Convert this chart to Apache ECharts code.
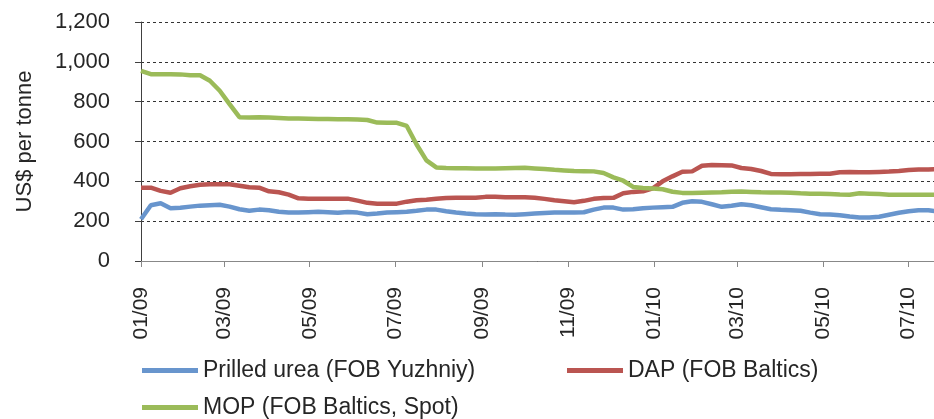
<!DOCTYPE html>
<html>
<head>
<meta charset="utf-8">
<script src="https://cdn.jsdelivr.net/npm/echarts@6/dist/echarts.min.js"></script>
<style>
html,body{margin:0;padding:0;background:#fff;}
#chart{width:934px;height:419px;}
</style>
</head>
<body>
<div id="chart"></div>
<script>
var dates = [
'2009-01-01','2009-01-08','2009-01-15','2009-01-22','2009-01-29',
'2009-02-05','2009-02-12','2009-02-19','2009-02-26',
'2009-03-05','2009-03-12','2009-03-19','2009-03-26',
'2009-04-02','2009-04-09','2009-04-16','2009-04-23','2009-04-30',
'2009-05-07','2009-05-14','2009-05-21','2009-05-28',
'2009-06-04','2009-06-11','2009-06-18','2009-06-25',
'2009-07-02','2009-07-09','2009-07-16','2009-07-23','2009-07-30',
'2009-08-06','2009-08-13','2009-08-20','2009-08-27',
'2009-09-03','2009-09-10','2009-09-17','2009-09-24',
'2009-10-01','2009-10-08','2009-10-15','2009-10-22','2009-10-29',
'2009-11-05','2009-11-12','2009-11-19','2009-11-26',
'2009-12-03','2009-12-10','2009-12-17','2009-12-24','2009-12-31',
'2010-01-07','2010-01-14','2010-01-21','2010-01-28',
'2010-02-04','2010-02-11','2010-02-18','2010-02-25',
'2010-03-04','2010-03-11','2010-03-18','2010-03-25',
'2010-04-01','2010-04-08','2010-04-15','2010-04-22','2010-04-29',
'2010-05-06','2010-05-13','2010-05-20','2010-05-27',
'2010-06-03','2010-06-10','2010-06-17','2010-06-24',
'2010-07-01','2010-07-08','2010-07-15','2010-07-22'
];

var urea = [
210,280,290,265,267,273,278,280,282,273,
260,252,258,255,247,243,243,245,247,245,
242,246,243,235,238,243,245,247,252,258,
258,250,243,238,235,234,235,233,232,235,
238,241,243,243,243,245,258,268,268,258,
260,265,268,270,272,292,300,297,285,272,
277,285,280,270,260,257,255,252,243,235,
233,230,223,218,218,222,232,242,250,255,
255,248
];

var dap = [
368,368,352,343,365,375,383,385,385,385,
378,370,368,350,345,333,315,313,313,313,
313,313,303,292,288,288,288,298,305,308,
312,316,318,318,318,322,322,320,320,320,
318,312,305,300,295,302,312,316,317,340,
347,350,365,400,425,448,450,478,482,481,
480,467,462,452,437,435,436,437,437,438,
438,446,447,446,445,447,449,452,457,459,
460,462
];

var mop = [
955,938,938,938,937,933,933,905,855,788,
722,720,722,720,718,716,715,714,713,713,
712,712,710,708,695,694,694,678,585,505,
470,467,466,466,465,464,465,466,467,468,
465,462,458,455,452,451,450,442,420,403,
372,367,364,360,348,342,342,343,344,345,
348,349,347,345,344,344,343,340,338,338,
337,334,333,340,338,336,333,333,333,333,
333,333
];

var seriesNames = ['Prilled urea (FOB Yuzhniy)', 'DAP (FOB Baltics)', 'MOP (FOB Baltics, Spot)'];
var seriesColors = ['#6895CD', '#BA5551', '#9BBB59'];
var tickDates = ['2009-01-01','2009-03-01','2009-05-01','2009-07-01','2009-09-01','2009-11-01','2010-01-01','2010-03-01','2010-05-01','2010-07-01'];
var tickLabels = ['01/09','03/09','05/09','07/09','09/09','11/09','01/10','03/10','05/10','07/10'];
var axisStart = '2009-01-01';
var axisEnd = '2010-07-19';
var yTicks = [0, 200, 400, 600, 800, 1000, 1200];
var yName = 'US$ per tonne';

var DAY = 86400000;
function dayNum(s){
  var p = s.split('-');
  var q = axisStart.split('-');
  return Math.round((Date.UTC(+p[0], +p[1]-1, +p[2]) - Date.UTC(+q[0], +q[1]-1, +q[2])) / DAY);
}
var tickDays = tickDates.map(dayNum);

function pairs(vals){ return vals.map(function(v,i){ return [dayNum(dates[i]), v]; }); }

var chart = echarts.init(document.getElementById('chart'), null, {renderer:'canvas'});
var font = 'Liberation Sans, Arial, sans-serif';
var textColor = '#262626';

function legendAt(name, left, top){
  return {
    data:[name], left:left, top:top, orient:'horizontal',
    icon:'rect', itemWidth:56, itemHeight:5, padding:0,
    textStyle:{fontFamily:font, fontSize:23, color:textColor}
  };
}

var option = {
  animation:false,
  backgroundColor:'#fff',
  grid:{left:141, right:0, top:22, bottom:158, containLabel:false},
  legend:[
    legendAt(seriesNames[0], 142, 359),
    legendAt(seriesNames[1], 567, 359),
    legendAt(seriesNames[2], 142, 396)
  ],
  xAxis:{
    type:'value',
    min: 0,
    max: dayNum(axisEnd),
    axisLine:{show:true, onZero:false, lineStyle:{color:'#888', width:1}},
    axisTick:{show:true, length:6, lineStyle:{color:'#888'}, customValues: tickDays},
    axisLabel:{
      customValues: tickDays,
      rotate:90, margin:26,
      fontFamily:font, fontSize:21, color:textColor,
      formatter:function(v){
        var i = tickDays.indexOf(v);
        return i >= 0 ? tickLabels[i] : '';
      }
    },
    splitLine:{show:false}
  },
  yAxis:{
    type:'value', min:yTicks[0], max:yTicks[yTicks.length-1], interval:200,
    name: yName, nameLocation:'middle', nameGap:105, nameRotate:90,
    nameTextStyle:{fontFamily:font, fontSize:22, color:textColor},
    axisLine:{show:true, lineStyle:{color:'#404040', width:1}},
    axisTick:{show:true, length:6, lineStyle:{color:'#404040'}},
    axisLabel:{
      margin:31, fontFamily:font, fontSize:22, color:textColor,
      formatter:function(v){ return v.toLocaleString('en-US'); }
    },
    splitLine:{show:true, lineStyle:{color:'#333', type:[3,3], width:1}}
  },
  series:[
    {name:seriesNames[0], type:'line', data:pairs(urea), showSymbol:false, symbol:'none', lineStyle:{width:4.5, color:seriesColors[0]}, itemStyle:{color:seriesColors[0]}, clip:true},
    {name:seriesNames[1], type:'line', data:pairs(dap), showSymbol:false, symbol:'none', lineStyle:{width:4.5, color:seriesColors[1]}, itemStyle:{color:seriesColors[1]}, clip:true},
    {name:seriesNames[2], type:'line', data:pairs(mop), showSymbol:false, symbol:'none', lineStyle:{width:4.5, color:seriesColors[2]}, itemStyle:{color:seriesColors[2]}, clip:true}
  ]
};
chart.setOption(option);
</script>
</body>
</html>
